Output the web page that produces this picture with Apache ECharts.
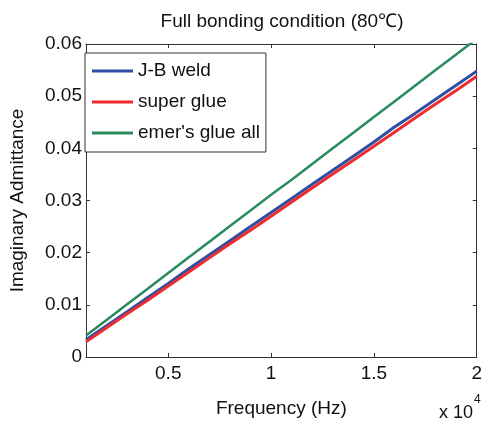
<!DOCTYPE html>
<html>
<head>
<meta charset="utf-8">
<script src="https://cdn.jsdelivr.net/npm/echarts@6/dist/echarts.min.js"></script>
<style>
  html, body { margin: 0; padding: 0; background: #fff; }
  #chart { width: 485px; height: 423px; }
</style>
</head>
<body>
<div id="chart"></div>
<script>
// 频率 (Hz)
const freq = [1000, 2000, 3000, 4000, 5000, 6000, 7000, 8000, 9000, 10000,
  11000, 12000, 13000, 14000, 15000, 16000, 17000, 18000, 19000, 20000];
// J-B weld
const jbWeld = [0.0033, 0.0060, 0.0087, 0.0114, 0.0141, 0.0169, 0.0196, 0.0223, 0.0250, 0.0277,
  0.0304, 0.0331, 0.0358, 0.0385, 0.0412, 0.0441, 0.0467, 0.0494, 0.0521, 0.0548];
// super glue
const superGlue = [0.0029, 0.0056, 0.0083, 0.0109, 0.0136, 0.0163, 0.0190, 0.0217, 0.0243, 0.0270,
  0.0297, 0.0324, 0.0351, 0.0377, 0.0404, 0.0431, 0.0458, 0.0485, 0.0511, 0.0538];
// emer's glue all
const emerGlue = [0.0041, 0.0071, 0.0101, 0.0131, 0.0161, 0.0191, 0.0221, 0.0251, 0.0281, 0.0311,
  0.0340, 0.0370, 0.0400, 0.0430, 0.0460, 0.0490, 0.0520, 0.0550, 0.0580, 0.0610];
const xTicks = [5000, 10000, 15000, 20000];
const yTicks = [0, 0.01, 0.02, 0.03, 0.04, 0.05, 0.06];

const FONT = "Liberation Sans, Arial, sans-serif";
const AXIS_COLOR = "#333";

const toPairs = (ys) => freq.map((x, i) => [x, ys[i]]);

const myChart = echarts.init(document.getElementById("chart"));

const baseX = {
  type: "value",
  min: 1000,
  max: 20000,
  splitLine: { show: false },
  axisLine: { show: true, onZero: false, lineStyle: { color: AXIS_COLOR, width: 1 } },
  axisTick: { show: true, inside: true, length: 4, customValues: xTicks, lineStyle: { color: AXIS_COLOR } },
};
const baseY = {
  type: "value",
  min: yTicks[0],
  max: yTicks[yTicks.length - 1],
  interval: 0.01,
  splitLine: { show: false },
  axisLine: { show: true, onZero: false, lineStyle: { color: AXIS_COLOR, width: 1 } },
  axisTick: { show: true, inside: true, length: 4, lineStyle: { color: AXIS_COLOR } },
};

const options = {
  animation: false,
  backgroundColor: "#fff",
  textStyle: { fontFamily: FONT },
  title: {
    text: "Full bonding condition (80℃)",
    left: 277,
    textAlign: "center",
    top: 7,
    textStyle: { fontFamily: FONT, fontSize: 19, fontWeight: "normal", color: "#111" },
  },
  grid: { left: 76, right: 5, top: 44, bottom: 64 },
  legend: {
    orient: "vertical",
    left: 85,
    top: 53,
    padding: [7, 6, 8, 7],
    itemGap: 9,
    itemWidth: 41,
    itemHeight: 3,
    icon: "rect",
    backgroundColor: "#fff",
    borderColor: AXIS_COLOR,
    borderWidth: 1,
    borderRadius: 0,
    textStyle: { fontFamily: FONT, fontSize: 19, color: "#111", lineHeight: 22 },
    data: ["J-B weld", "super glue", "emer's glue all"],
  },
  xAxis: [
    {
      ...baseX,
      position: "bottom",
      name: "Frequency (Hz)",
      nameLocation: "middle",
      nameGap: 42,
      nameTextStyle: { fontFamily: FONT, fontSize: 19, color: "#111" },
      axisLabel: {
        customValues: xTicks,
        margin: 7,
        fontFamily: FONT,
        fontSize: 19,
        color: "#111",
        formatter: (v) => String(v / 10000),
      },
    },
    {
      ...baseX,
      position: "top",
      axisLabel: { show: false },
    },
  ],
  yAxis: [
    {
      ...baseY,
      position: "left",
      name: "Imaginary Admittance",
      nameLocation: "middle",
      nameGap: 59,
      nameTextStyle: { fontFamily: FONT, fontSize: 19, color: "#111" },
      axisLabel: {
        margin: 4,
        fontFamily: FONT,
        fontSize: 19,
        color: "#111",
        formatter: (v) => (v === 0 ? "0" : v.toFixed(2)),
      },
    },
    {
      ...baseY,
      position: "right",
      axisLabel: { show: false },
    },
  ],
  series: [
    {
      name: "J-B weld",
      type: "line",
      data: toPairs(jbWeld),
      showSymbol: false,
      color: "#2f4fa3",
      lineStyle: { width: 3 },
      z: 2,
    },
    {
      name: "super glue",
      type: "line",
      data: toPairs(superGlue),
      showSymbol: false,
      color: "#ee2b2f",
      lineStyle: { width: 3 },
      z: 3,
    },
    {
      name: "emer's glue all",
      type: "line",
      data: toPairs(emerGlue),
      showSymbol: false,
      color: "#2b8a5b",
      lineStyle: { width: 2.5 },
      clip: true,
      z: 4,
    },
  ],
  graphic: [
    {
      type: "text",
      right: 12,
      top: 404,
      style: { text: "x 10", fontFamily: FONT, fontSize: 18, fill: "#111" },
    },
    {
      type: "text",
      left: 474,
      top: 394,
      style: { text: "4", fontFamily: FONT, fontSize: 12, fill: "#111" },
    },
  ],
};

myChart.setOption(options);
</script>
</body>
</html>
